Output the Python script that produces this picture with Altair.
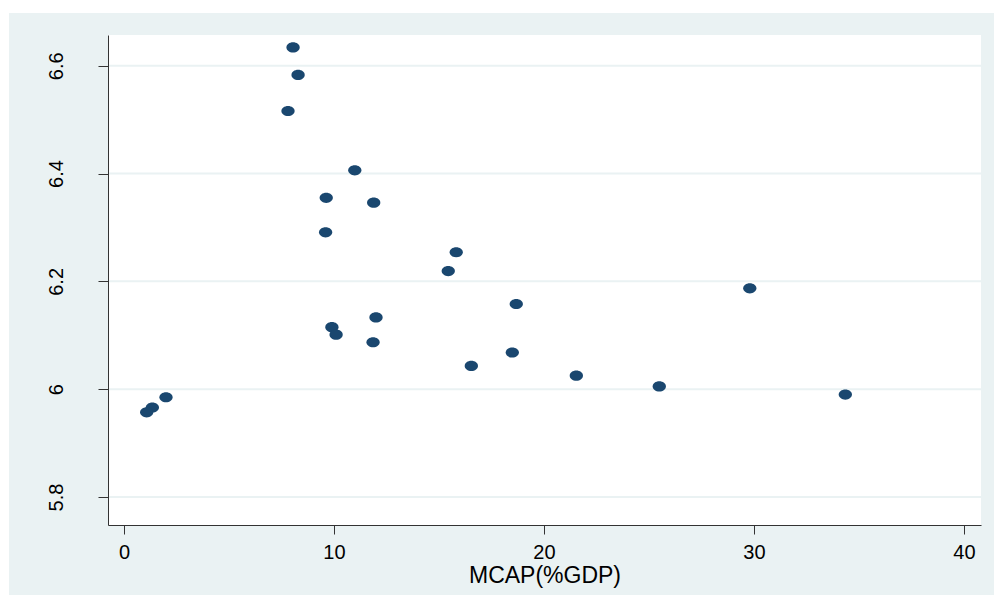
import altair as alt
import pandas as pd

# MCAP (% of GDP) and the y-variable
mcap = [8.05, 8.29, 7.81, 10.99, 9.63, 11.89, 9.60, 15.82, 15.44, 29.80, 18.68,
        12.00, 9.90, 10.10, 11.86, 18.49, 16.54, 21.54, 25.49, 34.35, 2.00, 1.35, 1.08]
yvals = [6.634, 6.583, 6.516, 6.406, 6.355, 6.346, 6.291, 6.254, 6.219, 6.187, 6.158,
         6.133, 6.115, 6.101, 6.087, 6.068, 6.043, 6.025, 6.005, 5.990, 5.985, 5.966, 5.957]
x_ticks = [0, 10, 20, 30, 40]
y_ticks = [5.8, 6.0, 6.2, 6.4, 6.6]

W, H = 873, 490
BG = "#EAF2F3"
NAVY = "#1A476F"
AXC = "#333333"
FONT = "Liberation Sans"

pts = pd.DataFrame({"mcap": mcap, "y": yvals})
grid = pd.DataFrame({"y": y_ticks})

xscale = alt.Scale(domain=[-0.762, 40.81], nice=False, zero=False)
yscale = alt.Scale(domain=[5.748, 6.657], nice=False, zero=False)

yaxis = alt.Axis(values=y_ticks, format="~g", grid=False, labelAngle=270,
                 labelAlign="center", labelBaseline="bottom", labelPadding=32,
                 tickSize=10, tickColor=AXC, domainColor=AXC, labelColor="black",
                 labelFont=FONT, labelFontSize=20, zindex=1)
xaxis = alt.Axis(values=x_ticks, format="d", grid=False, tickSize=9, tickColor=AXC,
                 domainColor=AXC, labelColor="black", labelFont=FONT, labelFontSize=20,
                 labelPadding=8, titleFont=FONT, titleFontSize=23, titleFontWeight="normal",
                 titleColor="black", titlePadding=2, zindex=1)

one = alt.Data(values=[{}])

outer = alt.Chart(one).mark_rect(color=BG, clip=False).encode(
    x=alt.value(-99), x2=alt.value(W + 13), y=alt.value(-22), y2=alt.value(H + 70))
inner = alt.Chart(one).mark_rect(color="white").encode(
    x=alt.value(0), x2=alt.value(W), y=alt.value(0), y2=alt.value(H))
gridlines = alt.Chart(grid).mark_rule(color=BG, strokeWidth=2).encode(
    y=alt.Y("y:Q", scale=yscale, axis=yaxis, title=None))

ellipse = "M -1 0 A 1 0.77 0 1 0 1 0 A 1 0.77 0 1 0 -1 0 Z"
points = alt.Chart(pts).mark_point(filled=True, shape=ellipse, size=176,
                                   color=NAVY, opacity=1).encode(
    x=alt.X("mcap:Q", scale=xscale, axis=xaxis, title="MCAP(%GDP)"),
    y=alt.Y("y:Q", scale=yscale, axis=yaxis, title=None),
)

chart = alt.layer(outer, inner, gridlines, points).properties(
    width=W, height=H, background="white",
    padding={"left": 108, "top": 35, "right": 13, "bottom": 72},
    autosize=alt.AutoSizeParams(type="none"),
).configure_view(strokeWidth=0)

chart.save("out.html", embed_options={"renderer": "svg", "actions": False})
